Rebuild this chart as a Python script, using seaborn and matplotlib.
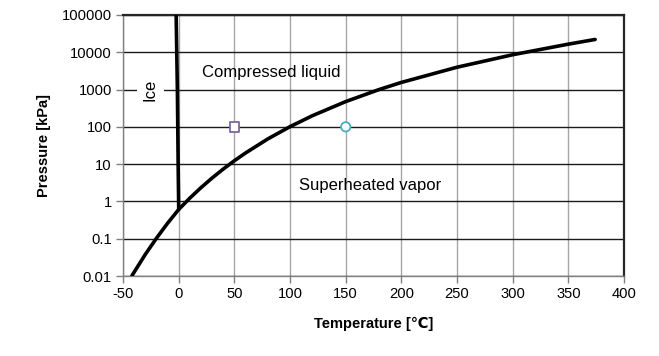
import matplotlib
matplotlib.use("Agg")
import matplotlib.pyplot as plt
import seaborn as sns
import pandas as pd

# Saturation (vapor / sublimation) curve
sat_T = [-42, -30, -20, -10, 0.01, 10, 20, 30, 40, 50, 60, 80, 100, 120, 150, 180, 200, 250, 300, 350, 374]
sat_P = [0.0102, 0.038, 0.103, 0.26, 0.61, 1.23, 2.34, 4.25, 7.38, 12.35, 19.9, 47.4, 101.3, 198.7, 476, 1002, 1555, 3976, 8588, 16530, 22064]

# Melting line
melt_T = [0.01, -0.5, -1.2, -2.3]
melt_P = [0.61, 10, 1000, 100000]

# State points
pt_T = [50, 150]
pt_P = [100, 100]
pt_name = ["A", "B"]

x_ticks = [-50, 0, 50, 100, 150, 200, 250, 300, 350, 400]
y_ticks = [0.01, 0.1, 1, 10, 100, 1000, 10000, 100000]
y_labels = ["0.01", "0.1", "1", "10", "100", "1000", "10000", "100000"]

sns.set_theme(style="white")
plt.rcParams['font.family'] = ['Liberation Sans', 'DejaVu Sans']
plt.rcParams['text.color'] = 'black'
plt.rcParams['axes.labelcolor'] = 'black'

fig = plt.figure(figsize=(6.59, 3.56), dpi=100)
ax = fig.add_axes([0.1867, 0.2247, 0.947 - 0.1867, 0.9579 - 0.2247])

sat = pd.DataFrame({"T": sat_T, "P": sat_P})
melt = pd.DataFrame({"T": melt_T, "P": melt_P})
pts = pd.DataFrame({"T": pt_T, "P": pt_P, "name": pt_name})

ax.set_yscale("log")
ax.set_xlim(-50, 400)
ax.set_ylim(0.01, 100000)

# grid
for yv in y_ticks:
    ax.axhline(yv, color="#1a1a1a", lw=1.0, zorder=0.5)
for xv in x_ticks:
    ax.axvline(xv, color="#a6a6a6", lw=1.0, zorder=0.4)

sns.lineplot(data=sat, x="T", y="P", ax=ax, color="black", lw=2.6, sort=False, estimator=None, zorder=3)
sns.lineplot(data=melt, x="T", y="P", ax=ax, color="black", lw=2.6, sort=False, estimator=None, zorder=3)

sns.scatterplot(data=pts, x="T", y="P", hue="name", style="name",
                markers={"A": "s", "B": "o"},
                palette={"A": "#8064a2", "B": "#4bacc6"},
                ax=ax, s=45, linewidth=1.3, zorder=4, legend=False)
for coll in ax.collections:
    fc = coll.get_facecolors()
    if len(fc):
        coll.set_edgecolors(fc.copy())
        coll.set_facecolors("white")

ax.set_xticks(x_ticks)
ax.set_xticklabels([str(v) for v in x_ticks])
ax.set_yticks(y_ticks)
ax.set_yticklabels(y_labels)
ax.minorticks_off()
ax.yaxis.set_minor_locator(matplotlib.ticker.NullLocator())
ax.tick_params(axis="both", which="major", direction="out", length=5, width=1,
               color="#808080", labelsize=10.6, pad=3, labelcolor="black",
               bottom=True, left=True)

ax.set_xlabel("Temperature [℃]", fontsize=10.5, fontweight="bold", labelpad=11)
ax.set_ylabel("Pressure [kPa]", fontsize=10.5, fontweight="bold", labelpad=8)

for s in ["left", "bottom"]:
    ax.spines[s].set_color("#808080")
    ax.spines[s].set_linewidth(1.0)
for s in ["top", "right"]:
    ax.spines[s].set_color("#262626")
    ax.spines[s].set_linewidth(1.6)

ax.text(21, 2800, "Compressed liquid", fontsize=12, ha="left", va="center")
ax.text(-25.5, 1000, "Ice", fontsize=12, rotation=90, ha="center", va="center", zorder=2,
        bbox=dict(boxstyle="square,pad=0.35", facecolor="white", edgecolor="none"))
ax.text(108, 2.75, "Superheated vapor", fontsize=12, ha="left", va="center")

fig.savefig("out.png", dpi=100)
